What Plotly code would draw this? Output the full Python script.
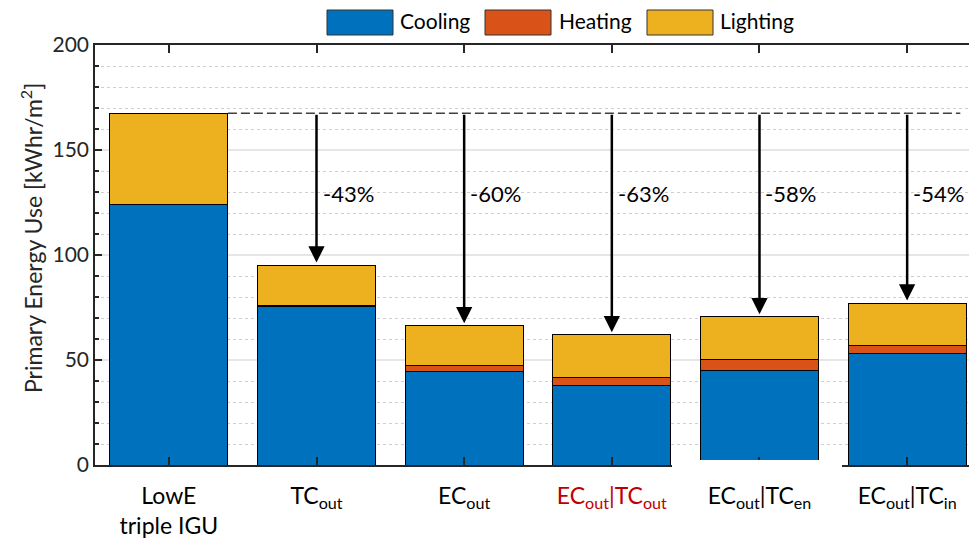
import plotly.graph_objects as go

# ---- data ----
categories = ["LowE<br>triple IGU", "TC<sub>out</sub>", "EC<sub>out</sub>",
              "<span style='color:#C00000'>EC<sub>out</sub>|TC<sub>out</sub></span>",
              "EC<sub>out</sub>|TC<sub>en</sub>", "EC<sub>out</sub>|TC<sub>in</sub>"]
cooling = [124.1, 75.5, 44.3, 37.9, 44.8, 53.2]
heating = [0.0, 0.3, 3.0, 4.0, 5.5, 3.8]
lighting = [43.4, 19.4, 19.0, 20.1, 20.3, 20.1]
reductions = ["-43%", "-60%", "-63%", "-58%", "-54%"]
y_ticks = [0, 50, 100, 150, 200]
y_title = "Primary Energy Use [kWhr/m<sup>2</sup>]"

series_names = ["Cooling", "Heating", "Lighting"]
colors = ["#0072BD", "#D95319", "#EDB120"]

# page body adds an 8px offset; screen px -> figure px
OFF = 8
W, H = 977, 544
L, T = 95 - OFF, 45 - OFF
R = W - (977 - OFF)
B = H - (465 - OFF)
pw, ph = W - L - R, H - T - B

def px_x(p):
    return (p - OFF - L) / pw

def px_y(p):
    return (H - B - (p - OFF)) / ph

font = "Lato, 'Open Sans', sans-serif"
x = list(range(len(categories)))
totals = [c + h + l for c, h, l in zip(cooling, heating, lighting)]
baseline = totals[0]

fig = go.Figure()
for name, vals, col in zip(series_names, [cooling, heating, lighting], colors):
    fig.add_trace(go.Bar(x=x, y=vals, name=name, marker_color=col,
                         marker_line_color="black", marker_line_width=1,
                         showlegend=False))

# dashed reference line
fig.add_shape(type="line", xref="x", yref="y", x0=0.4, x1=5.36, y0=baseline, y1=baseline,
              line=dict(color="#404040", width=1.4, dash="9px,4px"), layer="above")

annotations = []
for i, lab in enumerate(reductions, start=1):
    annotations.append(dict(x=i, y=totals[i] + 1.2, ax=i, ay=baseline, xref="x", yref="y",
                            axref="x", ayref="y", showarrow=True, arrowhead=2,
                            arrowsize=1.3, arrowwidth=2.5, arrowcolor="black", text=""))
    annotations.append(dict(x=i, y=129.5, xref="x", yref="y", text=lab, showarrow=False,
                            xanchor="left", xshift=4, font=dict(family=font, size=22, color="black")))

# y-axis title
annotations.append(dict(x=px_x(31), y=px_y(238), xref="paper", yref="paper", text=y_title,
                        textangle=-90, showarrow=False, xanchor="center", yanchor="middle",
                        font=dict(family=font, size=23, color="#262626")))

# manual legend with wide swatches
leg = [(327, 393, 398), (485, 551, 557), (647, 713, 718)]
for (a, b, t), name, col in zip(leg, series_names, colors):
    fig.add_shape(type="rect", xref="paper", yref="paper", x0=px_x(a), x1=px_x(b),
                  y0=px_y(35), y1=px_y(10), fillcolor=col, line=dict(color="#333333", width=1))
    annotations.append(dict(x=px_x(t), y=px_y(21), xref="paper", yref="paper", text=name,
                            showarrow=False, xanchor="left", yanchor="middle",
                            font=dict(family=font, size=21, color="black")))

# small white gap under the 5th column (as in the reference image)
fig.add_shape(type="rect", xref="paper", yref="paper", x0=px_x(672), x1=px_x(842),
              y0=px_y(472), y1=px_y(460), fillcolor="white", line=dict(width=0), layer="above")

fig.update_layout(
    width=W, height=H, margin=dict(l=L, r=R, t=T, b=B, autoexpand=False),
    paper_bgcolor="white", plot_bgcolor="white",
    barmode="stack", bargap=0.2,
    annotations=annotations,
    font=dict(family=font, color="#262626"),
)
fig.update_xaxes(range=[-0.5, 5.473], tickvals=x, ticktext=categories, automargin=False,
                 ticks="inside", ticklen=8, tickwidth=1.5, tickcolor="#262626",
                 showline=True, linecolor="#262626", linewidth=1.5, mirror="ticks",
                 showgrid=False, zeroline=False, ticklabelstandoff=10,
                 tickfont=dict(family=font, size=23, color="black"))
fig.update_yaxes(range=[0, 200], tickvals=y_ticks, ticks="inside", ticklen=7, tickwidth=1.5,
                 tickcolor="#262626", showline=True, linecolor="#262626", linewidth=1.5,
                 mirror="ticks", showgrid=True, gridcolor="#e6e6e6", gridwidth=1.5,
                 zeroline=False, automargin=False,
                 minor=dict(dtick=10, ticks="inside", ticklen=4, tickcolor="#262626",
                            showgrid=True, gridcolor="#cfcfcf", griddash="dot", gridwidth=1),
                 tickfont=dict(family=font, size=21, color="#262626"))

fig.write_html("out.html")
